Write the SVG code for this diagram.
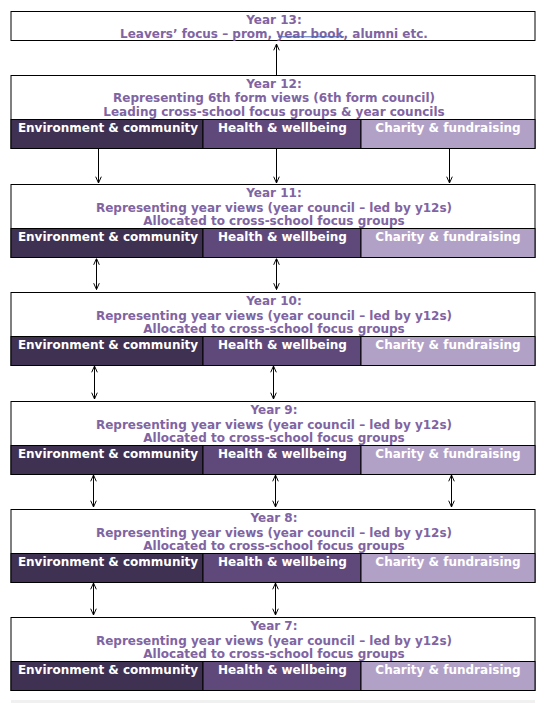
<svg xmlns="http://www.w3.org/2000/svg" width="548" height="703" viewBox="0 0 548 703">
<defs>
<style>
.box{fill:#fff;stroke:#000;stroke-width:1}
.t{font-family:"DejaVu Sans",Verdana,sans-serif;font-weight:bold;font-size:12px;fill:#8064A2;text-anchor:middle}
.b{font-family:"DejaVu Sans",Verdana,sans-serif;font-weight:bold;font-size:12px;fill:#fff;text-anchor:middle}
.env{fill:#3F3151;stroke:#000;stroke-width:1}
.hw{fill:#5F497A;stroke:#000;stroke-width:1}
.ch{fill:#B2A1C7;stroke:#000;stroke-width:1}
.c{stroke:#000;stroke-width:1;fill:none}
</style>
<marker id="ah" viewBox="0 0 10 10" refX="10" refY="5" markerWidth="7" markerHeight="7" markerUnits="userSpaceOnUse" orient="auto-start-reverse">
<path d="M1,1 L10,5 L1,9" fill="none" stroke="#000" stroke-width="1.4"/>
</marker>
<g id="bars">
<rect class="env" x="11" y="0" width="192" height="29"/>
<rect class="hw" x="203" y="0" width="158" height="29"/>
<rect class="ch" x="361" y="0" width="174" height="29"/>
<text class="b" x="108" y="12.7">Environment &amp; community</text>
<text class="b" x="282.5" y="12.7">Health &amp; wellbeing</text>
<text class="b" x="448" y="12.7">Charity &amp; fundraising</text>
</g>
</defs>

<g id="year13">
<rect class="box" x="11" y="11.5" width="524" height="29"/>
<text class="t" x="274" y="23.5">Year 13:</text>
<text class="t" x="274" y="37.8">Leavers’ focus – prom, year book, alumni etc.</text>
<line x1="278" y1="36.8" x2="344" y2="36.8" stroke="#4a64b4" stroke-width="1"/>
</g>

<g id="year12">
<rect class="box" x="11" y="75.5" width="524" height="73"/>
<text class="t" x="274" y="87.5">Year 12:</text>
<text class="t" x="274" y="101.8">Representing 6th form views (6th form council)</text>
<text class="t" x="274" y="115.5">Leading cross-school focus groups &amp; year councils</text>
<use href="#bars" y="119.5"/>
</g>

<g id="year11">
<rect class="box" x="11" y="184.5" width="524" height="73"/>
<text class="t" x="274" y="197">Year 11:</text>
<text class="t" x="274" y="211.5">Representing year views (year council – led by y12s)</text>
<text class="t" x="274" y="225">Allocated to cross-school focus groups</text>
<use href="#bars" y="228.5"/>
</g>

<g id="year10">
<rect class="box" x="11" y="292.5" width="524" height="73"/>
<text class="t" x="274" y="305">Year 10:</text>
<text class="t" x="274" y="319.5">Representing year views (year council – led by y12s)</text>
<text class="t" x="274" y="333">Allocated to cross-school focus groups</text>
<use href="#bars" y="336.5"/>
</g>

<g id="year9">
<rect class="box" x="11" y="401.5" width="524" height="73"/>
<text class="t" x="274" y="414">Year 9:</text>
<text class="t" x="274" y="428.5">Representing year views (year council – led by y12s)</text>
<text class="t" x="274" y="442">Allocated to cross-school focus groups</text>
<use href="#bars" y="445.5"/>
</g>

<g id="year8">
<rect class="box" x="11" y="509.5" width="524" height="73"/>
<text class="t" x="274" y="522">Year 8:</text>
<text class="t" x="274" y="536.5">Representing year views (year council – led by y12s)</text>
<text class="t" x="274" y="550">Allocated to cross-school focus groups</text>
<use href="#bars" y="553.5"/>
</g>

<g id="year7">
<rect class="box" x="11" y="617.5" width="524" height="73"/>
<text class="t" x="274" y="630">Year 7:</text>
<text class="t" x="274" y="644.5">Representing year views (year council – led by y12s)</text>
<text class="t" x="274" y="658">Allocated to cross-school focus groups</text>
<use href="#bars" y="661.5"/>
</g>

<rect x="11" y="700" width="524" height="3" fill="#f0f0f0"/>

<g id="connectors">
<line class="c" x1="276.5" y1="75" x2="276.5" y2="44" marker-end="url(#ah)"/>
<line class="c" x1="98.5" y1="149" x2="98.5" y2="183" marker-end="url(#ah)"/>
<line class="c" x1="276.5" y1="149" x2="276.5" y2="183" marker-end="url(#ah)"/>
<line class="c" x1="449.5" y1="149" x2="449.5" y2="183" marker-end="url(#ah)"/>
<line class="c" x1="96.5" y1="258.5" x2="96.5" y2="289.5" marker-start="url(#ah)" marker-end="url(#ah)"/>
<line class="c" x1="276.5" y1="258.5" x2="276.5" y2="289.5" marker-start="url(#ah)" marker-end="url(#ah)"/>
<line class="c" x1="94.5" y1="366" x2="94.5" y2="399" marker-start="url(#ah)" marker-end="url(#ah)"/>
<line class="c" x1="273.5" y1="366" x2="273.5" y2="399" marker-start="url(#ah)" marker-end="url(#ah)"/>
<line class="c" x1="93.5" y1="475" x2="93.5" y2="507" marker-start="url(#ah)" marker-end="url(#ah)"/>
<line class="c" x1="275.5" y1="475" x2="275.5" y2="507" marker-start="url(#ah)" marker-end="url(#ah)"/>
<line class="c" x1="451.5" y1="475" x2="451.5" y2="507" marker-start="url(#ah)" marker-end="url(#ah)"/>
<line class="c" x1="93.5" y1="583" x2="93.5" y2="615" marker-start="url(#ah)" marker-end="url(#ah)"/>
<line class="c" x1="275.5" y1="583" x2="275.5" y2="615" marker-start="url(#ah)" marker-end="url(#ah)"/>
</g>
</svg>
